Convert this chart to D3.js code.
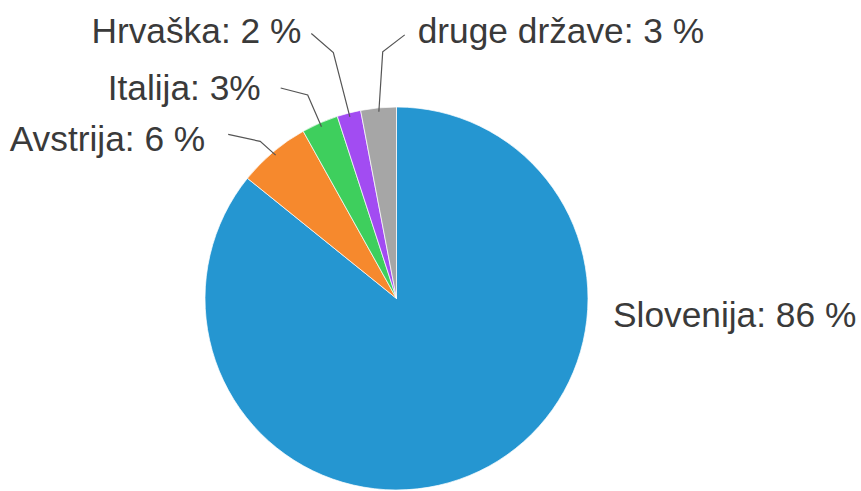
<!DOCTYPE html>
<html>
<head>
<meta charset="utf-8">
<script src="https://cdn.jsdelivr.net/npm/d3@7"></script>
<style>
  html, body { margin: 0; padding: 0; background: #fff; }
  svg { display: block; }
</style>
</head>
<body>
<svg id="chart" width="861" height="491"></svg>
<script>
// ---- data ----
const categories = ["Slovenija", "Avstrija", "Italija", "Hrvaška", "druge države"];
const values = [85.8, 6.1, 3.1, 2.0, 3.0];
const labelTexts = ["Slovenija: 86 %", "Avstrija: 6 %", "Italija: 3%", "Hrvaška: 2 %", "druge države: 3 %"];
const colors = ["#2596d1", "#f6892d", "#3ecf5d", "#a24cf2", "#a6a6a6"];

// ---- layout ----
const W = 861, H = 491;
const cx = 396.5, cy = 298.5, R = 191.5;
const fontSize = 35.3;
// per-label leader layout: elbow radius, elbow angle tweak (deg), end offset from elbow, text offset from end
const elbowR = [null, 208, 222, 254, 247];
const elbowDA = [null, -0.8, 0, 0, 2.2];
const endDX = [null, -32, -27, -22, 22];
const endDY = [null, -7, -7, -19, -17];
const textDX = [null, -23, -20, -10, 13];
const textDY = [null, 17, 12, 10, 8];

const svg = d3.select("#chart");
const g = svg.append("g").attr("transform", `translate(${cx},${cy})`);

const data = categories.map((c, i) => ({ name: c, value: values[i], label: labelTexts[i], color: colors[i], i }));
const pie = d3.pie().value(d => d.value).sort(null);
const arcs = pie(data);
const arc = d3.arc().innerRadius(0).outerRadius(R);

g.selectAll("path.slice")
  .data(arcs)
  .join("path")
  .attr("class", "slice")
  .attr("d", arc)
  .attr("fill", d => d.data.color)
  .attr("stroke", "#ffffff")
  .attr("stroke-width", 1)
  .attr("stroke-opacity", 0.7);

function polar(a, r) {
  return [Math.sin(a) * r, -Math.cos(a) * r];
}

const labels = g.append("g");
arcs.forEach((d, i) => {
  const mid = (d.startAngle + d.endAngle) / 2;
  if (i === 0) {
    labels.append("text")
      .attr("x", R + 25)
      .attr("y", 28.5)
      .attr("font-family", "'Liberation Sans', Arial, sans-serif")
      .attr("font-size", fontSize)
      .attr("fill", "#3a3a3a")
      .text(d.data.label);
    return;
  }
  const p0 = polar(mid, R - 4);
  const p1 = polar(mid + elbowDA[i] * Math.PI / 180, elbowR[i]);
  const p2 = [p1[0] + endDX[i], p1[1] + endDY[i]];
  labels.append("path")
    .attr("d", d3.line()([p0, p1, p2]))
    .attr("fill", "none")
    .attr("stroke", "#555")
    .attr("stroke-width", 1.2);
  const left = endDX[i] < 0;
  labels.append("text")
    .attr("x", p2[0] + textDX[i])
    .attr("y", p2[1] + textDY[i])
    .attr("text-anchor", left ? "end" : "start")
    .attr("font-family", "'Liberation Sans', Arial, sans-serif")
    .attr("font-size", fontSize)
    .attr("fill", "#3a3a3a")
    .text(d.data.label);
});
</script>
</body>
</html>
